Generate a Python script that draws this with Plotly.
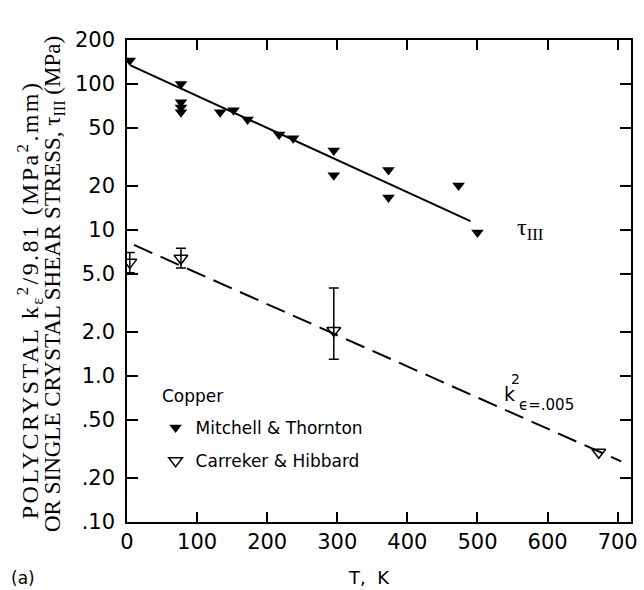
import plotly.graph_objects as go

# ---- data ----
mt_T = [4, 77, 77, 77, 77, 133, 152, 172, 217, 237, 295, 295, 373, 373, 473, 500]
mt_tau = [145, 100, 75, 69, 64, 64, 66, 57, 45, 42.5, 35, 23.7, 25.7, 16.7, 20.2, 9.6]

ch_T = [4, 77, 295, 673]
ch_k = [6.0, 6.4, 2.05, 0.30]
ch_hi = [7.0, 7.5, 4.0]     # error bar tops (first three points)
ch_lo = [5.1, 5.5, 1.3]     # error bar bottoms

fit_tau_T = [5, 490]
fit_tau = [134, 11.5]
fit_k_T = [10, 705]
fit_k = [7.9, 0.26]

y_tickvals = [0.1, 0.2, 0.5, 1, 2, 5, 10, 20, 50, 100, 200]
y_ticktext = [".10", ".20", ".50", "1.0", "2.0", "5.0", "10", "20", "50", "100", "200"]
x_tickvals = [0, 100, 200, 300, 400, 500, 600, 700]

# ---- layout geometry (pixels) ----
W, H = 644, 590
L, R, T, B = 127, 6, 40, 68
PW, PH = W - L - R, H - T - B

def px(p):
    return (p - L) / PW

def py(q):
    return (H - B - q) / PH

SANS = "DejaVu Sans"
SERIF = "Liberation Serif"

fig = go.Figure()

fig.add_trace(go.Scatter(
    x=fit_tau_T, y=fit_tau, mode="lines",
    line=dict(color="black", width=2), showlegend=False, hoverinfo="skip"))
fig.add_trace(go.Scatter(
    x=fit_k_T, y=fit_k, mode="lines",
    line=dict(color="black", width=2, dash="20px,9px"), showlegend=False, hoverinfo="skip"))

fig.add_trace(go.Scatter(
    x=mt_T, y=mt_tau, mode="markers", name="Mitchell & Thornton",
    legendgroup="a",
    marker=dict(symbol="triangle-down", size=11, color="black")))

n = len(ch_hi)
fig.add_trace(go.Scatter(
    x=ch_T[:n], y=ch_k[:n], mode="markers", name="Carreker & Hibbard",
    legendgroup="b",
    marker=dict(symbol="triangle-down-open", size=12, color="black", line=dict(width=1.5)),
    error_y=dict(type="data", symmetric=False,
                 array=[h - v for h, v in zip(ch_hi, ch_k[:n])],
                 arrayminus=[v - l for l, v in zip(ch_lo, ch_k[:n])],
                 color="black", thickness=1.5, width=5)))
fig.add_trace(go.Scatter(
    x=ch_T[n:], y=ch_k[n:], mode="markers", name="Carreker & Hibbard",
    legendgroup="b", showlegend=False,
    marker=dict(symbol="triangle-down-open", size=12, color="black", line=dict(width=1.5))))

annotations = [
    # y-axis title, two lines
    dict(text='<span style="letter-spacing:2.4px">POLYCRYSTAL k<sub>ε</sub><sup>2</sup>/9.81 (MPa<sup>2</sup>.mm)</span>',
         x=px(29), y=py(300), textangle=-90, font=dict(family=SERIF, size=24, color="black")),
    dict(text="OR SINGLE CRYSTAL SHEAR STRESS, τ<sub>III</sub> (MPa)",
         x=px(53), y=py(284), textangle=-90, font=dict(family=SERIF, size=23, color="black")),
    # curve labels
    dict(text="τ<sub>III</sub>", x=px(520), y=py(229), xanchor="left",
         font=dict(family=SERIF, size=24, color="black")),
    dict(text="k", x=px(515), y=py(394), font=dict(family=SANS, size=19, color="black")),
    dict(text="2", x=px(521), y=py(379), font=dict(family=SANS, size=14, color="black")),
    dict(text="ϵ=.005", x=px(522), y=py(405), xanchor="left",
         font=dict(family=SANS, size=15, color="black")),
    # legend heading
    dict(text="Copper", x=px(160), y=py(396), xanchor="left",
         font=dict(family=SANS, size=17, color="black")),
    # x title and panel label
    dict(text="T,  K", x=px(372), y=py(577), font=dict(family=SANS, size=18, color="black")),
    dict(text="(a)", x=px(22), y=py(578), font=dict(family=SANS, size=17, color="black")),
]
for a in annotations:
    a.setdefault("xref", "paper")
    a.setdefault("yref", "paper")
    a.setdefault("showarrow", False)
    a.setdefault("xanchor", "center")
    a.setdefault("yanchor", "middle")

fig.update_layout(
    width=W, height=H,
    margin=dict(l=L, r=R, t=T, b=B),
    paper_bgcolor="white", plot_bgcolor="white",
    font=dict(family=SANS, color="black"),
    showlegend=True,
    legend=dict(
        x=px(156), y=py(410), xanchor="left", yanchor="top",
        font=dict(family=SANS, size=17, color="black"),
        bgcolor="rgba(0,0,0,0)", traceorder="grouped", tracegroupgap=8,
    ),
    annotations=annotations,
    xaxis=dict(
        range=[0, 719], tickvals=x_tickvals, ticks="inside", ticklen=10, tickwidth=1.5,
        showline=True, linecolor="black", linewidth=1.5, mirror="ticks",
        showgrid=False, zeroline=False, tickcolor="black",
        tickfont=dict(family=SANS, size=21, color="black"), ticklabelstandoff=0,
    ),
    yaxis=dict(
        type="log", range=[-1, 2.30103], tickvals=y_tickvals, ticktext=y_ticktext,
        ticks="inside", ticklen=11, tickwidth=1.5,
        showline=True, linecolor="black", linewidth=1.5, mirror="ticks",
        showgrid=False, zeroline=False, tickcolor="black",
        tickfont=dict(family=SANS, size=21, color="black"), ticklabelstandoff=6,
    ),
)

fig.write_html("out.html")
